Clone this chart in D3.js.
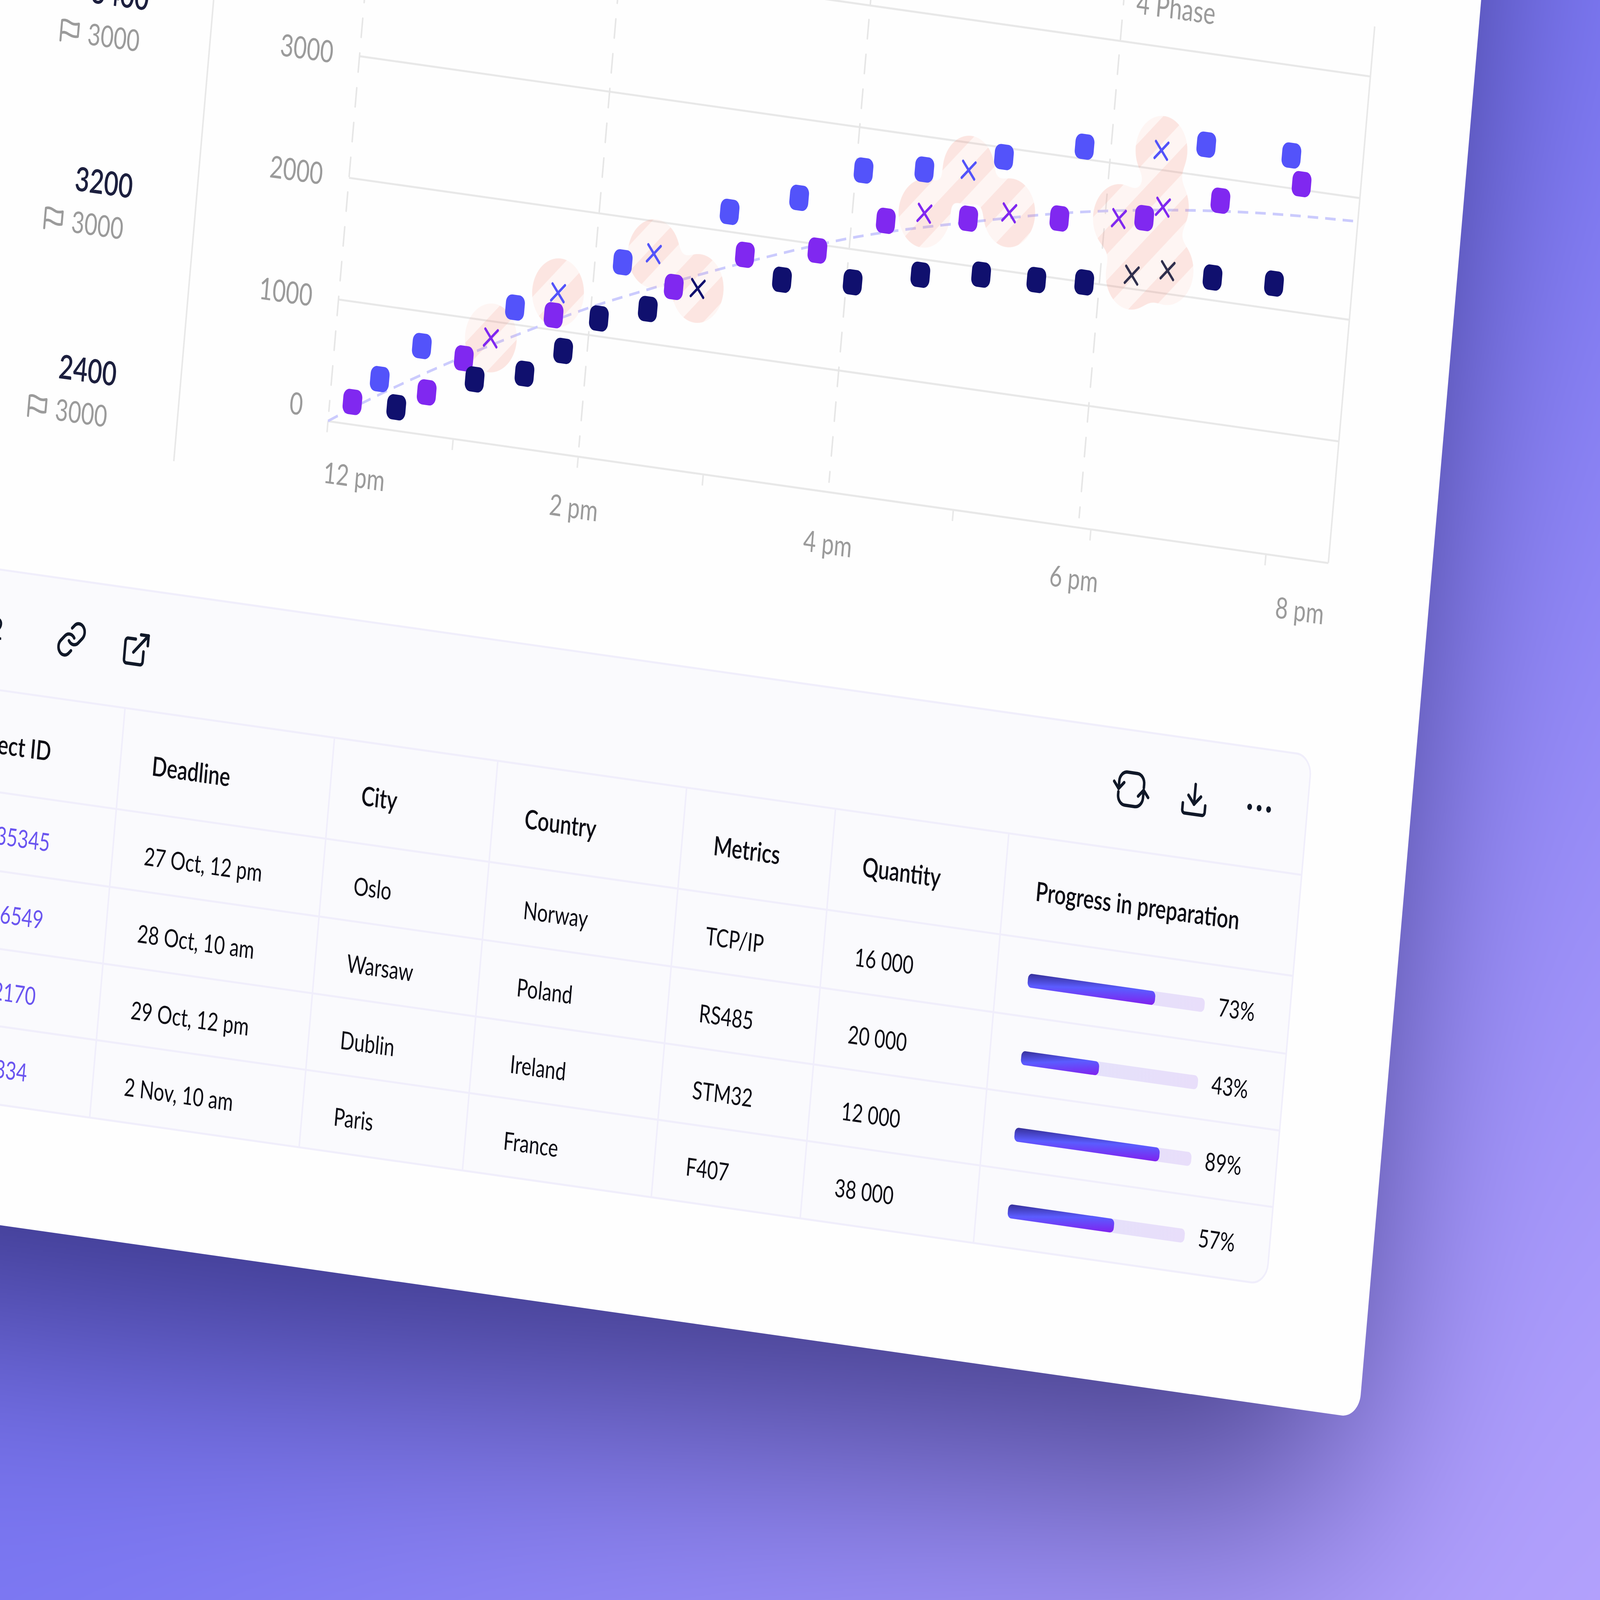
<!DOCTYPE html>
<html>
<head>
<meta charset="utf-8">
<script src="https://cdn.jsdelivr.net/npm/d3@7"></script>
<style>
html, body { margin: 0; height: 100%; background: #7a76f2; overflow: hidden; }
svg { display: block; width: 100vw; height: 100vh; }
text { font-family: Lato, sans-serif; }
</style>
</head>
<body>
<div id="chart"></div>
<script>
// chart data, [hour, value]
var violetPoints = [[12.18,183],[12.76,346],[13.03,665],[13.71,1119],[14.64,1487],[15.18,1830],[15.75,1948],[16.27,2268],[16.92,2381],[17.64,2487],[18.31,2588],[18.9,2817],[19.53,3045]];
var bluePoints = [[12.38,400],[12.69,717],[13.4,1137],[14.22,1628],[15.03,2161],[15.57,2355],[16.06,2651],[16.54,2729],[17.16,2922],[17.79,3099],[18.75,3256],[19.43,3266]];
var navyPoints = [[12.53,190],[13.13,507],[13.52,610],[13.81,840],[14.07,1145],[14.45,1278],[15.49,1670],[16.05,1731],[16.58,1870],[17.06,1941],[17.5,1961],[17.88,1997],[18.89,2184],[19.38,2206]];
var violetCrosses = [[13.23,862],[16.57,2374],[17.24,2475],[18.11,2555],[18.45,2698]];
var blueCrosses = [[13.73,1306],[14.46,1734],[16.89,2775],[18.4,3158]];
var navyCrosses = [[14.83,1502]];
var darkCrosses = [[18.25,2110],[18.53,2188]];
var trendPoints = [[12,0],[12.26,186],[12.94,627],[13.61,1016],[14,1228],[14.42,1428],[15.2,1773],[16.06,2107],[16.93,2353],[17.79,2561],[18.49,2680],[19.2,2760],[20,2806]];

var yTicks = [0,1000,2000,3000,4000];
var yLabels = [0,1000,2000,3000];
var hourLabels = [[12,"12 pm"],[14,"2 pm"],[16,"4 pm"],[18,"6 pm"],[20,"8 pm"]];
var dashedHours = [12,14,16,18];
var minorHours = [13,14,15,17,18.1,19.5];

// left side numbers
var sideValues = ["3400","3200","2400"];
var sideTargets = ["3000","3000","3000"];

// table
var columns = ["Project ID","Deadline","City","Country","Metrics","Quantity","Progress in preparation"];
var projectIds = ["35345","6549","2170","334"];
var deadlines = ["27 Oct, 12 pm","28 Oct, 10 am","29 Oct, 12 pm","2 Nov, 10 am"];
var cities = ["Oslo","Warsaw","Dublin","Paris"];
var countries = ["Norway","Poland","Ireland","France"];
var metrics = ["TCP/IP","RS485","STM32","F407"];
var quantities = ["16 000","20 000","12 000","38 000"];
var progress = [73,43,89,57];
// length of the filled bars as drawn, they do not follow the printed percent exactly
var progressFill = [72,44,82,60];

var plotW = 4024, plotH = 1469.6;
var ink = "#101828";

var svg = d3.select("#chart").append("svg").attr("viewBox","0 0 6400 4800").attr("preserveAspectRatio","none");
var defs = svg.append("defs");

// everything on the card sits in this tilted space, origin at the chart's 12 pm / 0 corner
var tilt = "matrix(0.9944 0.1058 -0.1144 0.9934 1312 1263)";

// background. base and shadow are blurred together while opaque, a see-through shadow bands badly
var bgGrad = defs.append("linearGradient").attr("id","bgGrad").attr("gradientUnits","userSpaceOnUse")
	.attr("x1",6400).attr("y1",0).attr("x2",8704).attr("y2",3072);
bgGrad.append("stop").attr("offset",0).attr("stop-color","#7a76f2");
bgGrad.append("stop").attr("offset",1).attr("stop-color","#b4a2fc");

var blur = defs.append("filter").attr("id","cardShadow").attr("filterUnits","userSpaceOnUse")
	.attr("x",-1500).attr("y",-1500).attr("width",9400).attr("height",7800)
	.attr("color-interpolation-filters","sRGB");
blur.append("feGaussianBlur").attr("stdDeviation",380).attr("edgeMode","duplicate");

var bg = svg.append("g").attr("filter","url(#cardShadow)");
bg.append("rect").attr("x",-3000).attr("y",-3000).attr("width",13000).attr("height",11000).attr("fill","url(#bgGrad)");
bg.append("g").attr("transform",tilt).append("rect")
	.attr("x",-3000).attr("y",-2600).attr("width",7340).attr("height",5380)
	.attr("fill","#14104a").attr("fill-opacity",0.68);

var card = svg.append("g").attr("transform",tilt);
card.append("rect").attr("x",-2600).attr("y",-2600).attr("width",7038).attr("height",5138).attr("rx",70).attr("fill","#fefefe");

var x = d3.scaleLinear().domain([12,20]).range([0,plotW]);
var y = d3.scaleLinear().domain([0,4000]).range([0,-plotH]);

var gridColor = "#e8e8e8", labelColor = "#9b9b9b";

// grid lines
var yAxis = d3.axisLeft(y).tickValues(yTicks).tickSize(-plotW).tickFormat("");
var gGrid = card.append("g").call(yAxis);
gGrid.select(".domain").remove();
gGrid.selectAll("line").attr("stroke",gridColor).attr("stroke-width",6);

// right edge of the plot
card.append("line").attr("x1",plotW).attr("x2",plotW).attr("y1",0).attr("y2",-1620).attr("stroke",gridColor).attr("stroke-width",6);
// separator of the left column
card.append("line").attr("x1",-599).attr("x2",-599).attr("y1",185).attr("y2",-1400).attr("stroke",gridColor).attr("stroke-width",6);

// minor ticks
var xAxis = d3.axisBottom(x).tickValues(minorHours).tickSize(34).tickFormat("");
var gTicks = card.append("g").call(xAxis);
gTicks.select(".domain").remove();
gTicks.selectAll("line").attr("stroke",gridColor).attr("stroke-width",6);

// dashed hour lines
card.selectAll(".hourLine").data(dashedHours).enter().append("line")
	.attr("class","hourLine")
	.attr("x1",d => x(d)).attr("x2",d => x(d))
	.attr("y1",-30).attr("y2",-1800)
	.attr("stroke","#e6e6e6").attr("stroke-width",6).attr("stroke-linecap","round")
	.attr("stroke-dasharray","57 48").attr("stroke-dashoffset",26);
card.append("line").attr("x1",0).attr("x2",0).attr("y1",0).attr("y2",34).attr("stroke",gridColor).attr("stroke-width",6);

// axis labels
card.selectAll(".yLabel").data(yLabels).enter().append("text")
	.attr("class","yLabel")
	.attr("x",-105).attr("y",d => y(d) - (d === 0 ? 38 : 0)).attr("dy",".35em")
	.attr("text-anchor","end").attr("font-size",92).attr("fill",labelColor)
	.text(d => d);
card.selectAll(".xLabel").data(hourLabels).enter().append("text")
	.attr("class","xLabel")
	.attr("x",d => x(d[0]) + (d[0] === 16 ? 16 : 0)).attr("y",186)
	.attr("text-anchor",d => d[0] === 12 ? "start" : d[0] === 20 ? "end" : "middle")
	.attr("font-size",88).attr("fill",labelColor)
	.text(d => d[1]);
card.append("text").attr("x",3070).attr("y",-1558).attr("font-size",92).attr("fill",labelColor).text("4 Phase");

// trend line
var trend = d3.line().x(d => x(d[0])).y(d => y(d[1])).curve(d3.curveMonotoneX);
card.append("path").datum(trendPoints).attr("d",trend).attr("fill","none")
	.attr("stroke","#cbcbfd").attr("stroke-width",8).attr("stroke-dasharray","42 28");

// hatched blobs round the anomalies
var allCrosses = violetCrosses.concat(blueCrosses,navyCrosses,darkCrosses);

var hatch = defs.append("pattern").attr("id","hatch").attr("patternUnits","userSpaceOnUse")
	.attr("width",122).attr("height",122).attr("patternTransform","rotate(45) translate(38.3,0)");
hatch.append("rect").attr("width",122).attr("height",122).attr("fill","#f68b6f").attr("fill-opacity",0.08);
hatch.append("rect").attr("width",61).attr("height",122).attr("fill","#f68b6f").attr("fill-opacity",0.14);

var goo = defs.append("filter").attr("id","goo").attr("filterUnits","userSpaceOnUse")
	.attr("x",-500).attr("y",-2000).attr("width",5500).attr("height",2500)
	.attr("color-interpolation-filters","sRGB");
goo.append("feGaussianBlur").attr("stdDeviation",24);
goo.append("feColorMatrix").attr("values","1 0 0 0 0  0 1 0 0 0  0 0 1 0 0  0 0 0 30 -14");

var blobMask = defs.append("mask").attr("id","blobMask").attr("maskUnits","userSpaceOnUse")
	.attr("x",-500).attr("y",-2000).attr("width",5500).attr("height",2500);
blobMask.append("g").attr("filter","url(#goo)").selectAll("circle").data(allCrosses).enter().append("circle")
	.attr("cx",d => x(d[0])).attr("cy",d => y(d[1])).attr("r",105).attr("fill","#fff");

card.append("rect").attr("x",-500).attr("y",-2000).attr("width",5500).attr("height",2500)
	.attr("fill","url(#hatch)").attr("mask","url(#blobMask)");

// square markers
function drawMarkers(points,color) {
	card.append("g").selectAll("rect").data(points).enter().append("rect")
		.attr("x",d => x(d[0]) - 38).attr("y",d => y(d[1]) - 38)
		.attr("width",76).attr("height",76).attr("rx",24)
		.attr("fill",color);
}
drawMarkers(bluePoints,"#5353fa");
drawMarkers(violetPoints,"#8028f0");
drawMarkers(navyPoints,"#10106e");

// anomaly crosses
var times = d3.symbol().type(d3.symbolTimes).size(1650);
function drawCrosses(points,color) {
	card.append("g").selectAll("path").data(points).enter().append("path")
		.attr("d",times)
		.attr("transform",d => "translate(" + x(d[0]) + "," + y(d[1]) + ")")
		.attr("fill","none").attr("stroke",color).attr("stroke-width",8.5).attr("stroke-linecap","round");
}
drawCrosses(violetCrosses,"#8028f0");
drawCrosses(blueCrosses,"#5353fa");
drawCrosses(navyCrosses,"#10106e");
drawCrosses(darkCrosses,"#2f2f4d");

// left column, one row per value
var sideY = d3.scaleLinear().domain([0,2]).range([-1053,81]);
var side = card.selectAll(".side").data(sideValues).enter().append("g").attr("class","side")
	.attr("transform",(d,i) => "translate(0," + sideY(i) + ")");
side.append("text").attr("x",-856).attr("y",-130).attr("dy",".35em").attr("text-anchor","end")
	.attr("font-size",100).attr("font-weight",600).attr("fill","#1c1f3e").text(d => d);
side.append("text").attr("x",-879).attr("dy",".35em").attr("text-anchor","end")
	.attr("font-size",90).attr("fill",labelColor).text((d,i) => sideTargets[i]);
side.append("path").attr("transform","translate(-1162,0)")
	.attr("d","M-32 30 L-32 -30 C-15 -36 0 -26 10 -24 C20 -22 28 -24 36 -26 L36 12 C20 16 8 12 -4 8 C-14 4 -24 4 -32 8")
	.attr("fill","none").attr("stroke",labelColor).attr("stroke-width",8).attr("stroke-linecap","round").attr("stroke-linejoin","round");

// table panel
var tableBorder = "#f0eefb";
var table = card.append("g");
table.append("rect").attr("x",-2600).attr("y",582).attr("width",6625).attr("height",1597).attr("rx",62)
	.attr("fill","#fafafd").attr("stroke",tableBorder).attr("stroke-width",6);

var colEdges = [-1550,-708,134.5,791.5,1551,2150,2847,4025];
var rowEdges = [942,1247,1482,1714,1945,2177];

table.selectAll(".rowLine").data(rowEdges.slice(0,5)).enter().append("line").attr("class","rowLine")
	.attr("x1",-2600).attr("x2",4025).attr("y1",d => d).attr("y2",d => d)
	.attr("stroke",tableBorder).attr("stroke-width",6);
table.selectAll(".colLine").data(colEdges.slice(1,7)).enter().append("line").attr("class","colLine")
	.attr("x1",d => d).attr("x2",d => d).attr("y1",942).attr("y2",2177)
	.attr("stroke",tableBorder).attr("stroke-width",6);

var headerY = 1104, textPad = 127, cellSize = 75, headSize = 80;
table.selectAll(".head").data(columns).enter().append("text").attr("class","head")
	.attr("x",(d,i) => i === 0 ? -987 : colEdges[i] + textPad).attr("y",headerY).attr("dy",".35em")
	.attr("text-anchor",(d,i) => i === 0 ? "end" : "start")
	.attr("font-size",headSize).attr("font-weight",600).attr("fill","#0b0b14")
	.text(d => d);

function cellY(r) { return (rowEdges[r+1] + rowEdges[r+2]) / 2 + 12; }
table.selectAll(".pid").data(projectIds).enter().append("text").attr("class","pid")
	.attr("x",(d,i) => i < 2 ? -960 : i === 2 ? -964 : -972).attr("y",(d,i) => cellY(i)).attr("dy",".35em").attr("text-anchor","end")
	.attr("font-size",cellSize).attr("fill","#6a55f0").text(d => d);
[deadlines,cities,countries,metrics,quantities].forEach(function(list,c) {
	table.append("g").selectAll("text").data(list).enter().append("text")
		.attr("x",colEdges[c+1] + textPad + (list === countries ? 26 : 0)).attr("y",(d,i) => cellY(i)).attr("dy",".35em")
		.attr("font-size",cellSize).attr("fill","#0b0b14").text(d => d);
});

// progress bars
var barGrad = defs.append("linearGradient").attr("id","barGrad").attr("x1",0).attr("y1",0).attr("x2",1).attr("y2",1);
barGrad.append("stop").attr("offset",0).attr("stop-color","#352f96");
barGrad.append("stop").attr("offset",0.45).attr("stop-color","#5b5cff");
barGrad.append("stop").attr("offset",1).attr("stop-color","#8120ee");
var trackGrad = defs.append("linearGradient").attr("id","trackGrad");
trackGrad.append("stop").attr("offset",0).attr("stop-color","#e3e3fb");
trackGrad.append("stop").attr("offset",1).attr("stop-color","#e8defa");

var barX = d3.scaleLinear().domain([0,100]).range([2973,3684]);
var bars = table.selectAll(".bar").data(progress).enter().append("g").attr("class","bar")
	.attr("transform",(d,i) => "translate(0," + (cellY(i) - 4) + ")");
bars.append("rect").attr("x",barX(0)).attr("y",-21).attr("height",42).attr("rx",15)
	.attr("width",barX(100)-barX(0)).attr("fill","url(#trackGrad)");
bars.append("rect").attr("x",barX(0)).attr("y",-21).attr("height",42).attr("rx",15)
	.attr("width",(d,i) => barX(progressFill[i])-barX(0)).attr("fill","url(#barGrad)");
bars.append("text").attr("x",3739).attr("dy",".35em").attr("font-size",cellSize).attr("fill","#0b0b14").text(d => d + "%");

// toolbar icons, 24 grid scaled by 5
function icon(cx,cy,paths) {
	var g = table.append("g").attr("transform","translate(" + cx + "," + cy + ") scale(5) translate(-12,-12)")
		.attr("fill","none").attr("stroke",ink).attr("stroke-width",2).attr("stroke-linecap","round").attr("stroke-linejoin","round");
	paths.forEach(p => g.append("path").attr("d",p));
}
icon(-944,760,["M10 13a5 5 0 0 0 7.54.54l3-3a5 5 0 0 0-7.07-7.07l-1.72 1.71","M14 11a5 5 0 0 0-7.54-.54l-3 3a5 5 0 0 0 7.07 7.07l1.71-1.71"]);
icon(-684,762,["M18 13v6a2 2 0 0 1-2 2H5a2 2 0 0 1-2-2V8a2 2 0 0 1 2-2h6","M15 3h6v6","M10 14 21 3"]);
icon(3318,759,["M22 10V8a6 6 0 0 0-6-6H8a6 6 0 0 0-6 6v4.5","M-2 8.5 2 12.5 6 8.5","M2 14.5V16a6 6 0 0 0 6 6h8a6 6 0 0 0 6-6v-4.5","M18 15.5 22 11.5 26 15.5"]);
icon(3573,762,["M21 15v4a2 2 0 0 1-2 2H5a2 2 0 0 1-2-2v-4","M7 10l5 5 5-5","M12 15V3"]);
table.selectAll(".dot").data([-1,0,1]).enter().append("circle").attr("class","dot")
	.attr("cx",d => 3833 + d*38).attr("cy",761).attr("r",9.5).attr("fill",ink);
table.append("text").attr("x",-1219).attr("y",760).attr("dy",".35em").attr("text-anchor","end")
	.attr("font-size",90).attr("fill",ink).text("2");
</script>
</body>
</html>
